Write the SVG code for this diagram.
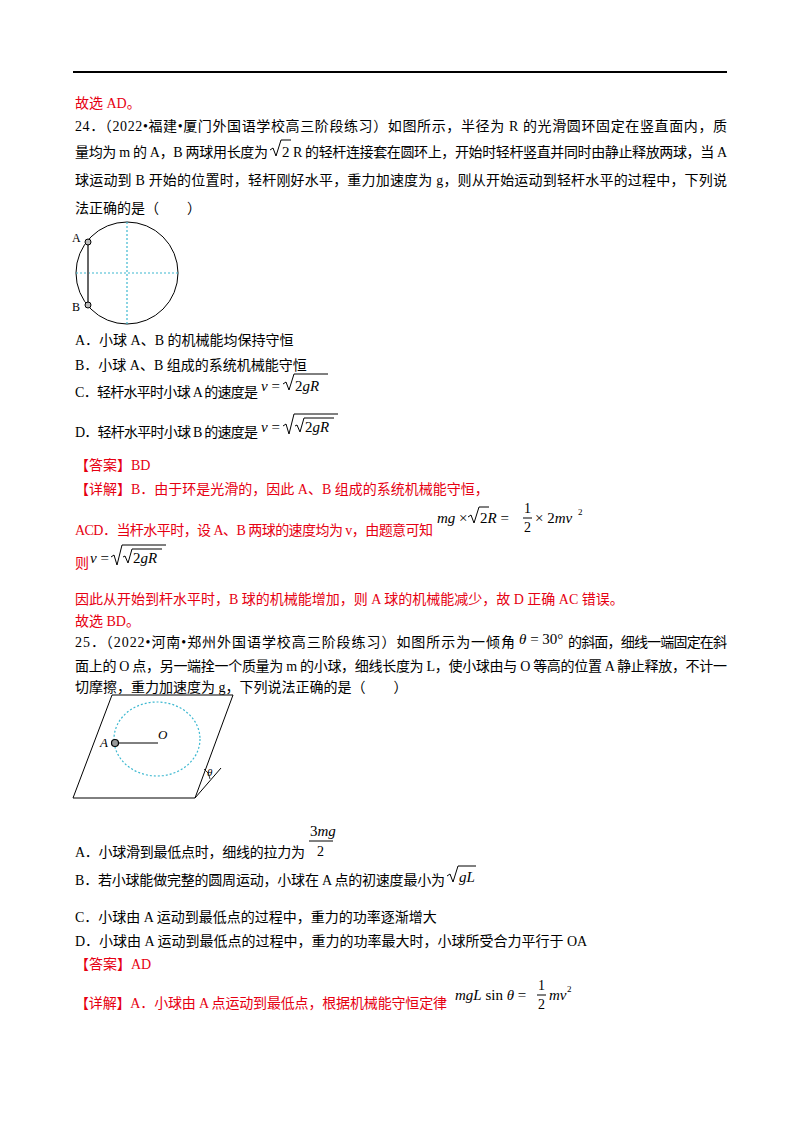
<svg xmlns="http://www.w3.org/2000/svg" width="800" height="1132" viewBox="0 0 800 1132">
<style>
text{font-family:"Liberation Serif","Noto Sans CJK SC",serif;font-size:14px;fill:#000}
.r{fill:#e60012}
.m{font-family:"Liberation Serif",serif;font-style:italic;font-size:15px}
.n{font-family:"Liberation Serif",serif;font-style:normal}
.s{font-size:9px}
.f{font-size:12px}
.rad{fill:none;stroke:#000;stroke-width:1}
.dash{fill:none;stroke:#3cb8d0;stroke-width:1.2;stroke-dasharray:2,2}
</style>
<rect width="800" height="1132" fill="#fff"/>
<line x1="73" y1="72" x2="727" y2="72" stroke="#000" stroke-width="2"/>
<g id="text">
<text class="r" x="75" y="108">故选 AD。</text>
<text x="75" y="131" textLength="652" lengthAdjust="spacing">24．（2022•福建•厦门外国语学校高三阶段练习）如图所示，半径为 R 的光滑圆环固定在竖直面内，质</text>
<text x="75" y="157" textLength="193" lengthAdjust="spacing">量均为 m 的 A，B 两球用长度为</text>
<path class="rad" d="M270,150 l3,-2 l3,8 l5,-16 h10"/>
<text x="282" y="157" class="n" style="font-size:15px">2</text>
<text x="293" y="157" textLength="434" lengthAdjust="spacing">R 的轻杆连接套在圆环上，开始时轻杆竖直并同时由静止释放两球，当 A</text>
<text x="75" y="185" textLength="652" lengthAdjust="spacing">球运动到 B 开始的位置时，轻杆刚好水平，重力加速度为 g，则从开始运动到轻杆水平的过程中，下列说</text>
<text x="75" y="213">法正确的是（　　）</text>
<text x="75" y="345">A．小球 A、B 的机械能均保持守恒</text>
<text x="75" y="370">B．小球 A、B 组成的系统机械能守恒</text>
<text x="75" y="397" textLength="183" lengthAdjust="spacing">C．轻杆水平时小球 A 的速度是</text>
<text class="m" x="261" y="391">v<tspan class="n"> =</tspan></text>
<path class="rad" d="M283,384 l3,-2 l3,8 l5,-16 h34"/>
<text class="m" x="295" y="391"><tspan class="n">2</tspan>gR</text>
<text x="75" y="437" textLength="183" lengthAdjust="spacing">D．轻杆水平时小球 B 的速度是</text>
<text class="m" x="261" y="432">v<tspan class="n"> =</tspan></text>
<path class="rad" d="M283,426 l3,-2 l3,10 l5,-20 h44"/>
<path class="rad" d="M295,426 l2,-1 l3,7 l4,-14 h30"/>
<text class="m" x="305" y="432"><tspan class="n">2</tspan>gR</text>
<text class="r" x="75" y="470">【答案】BD</text>
<text class="r" x="75" y="494">【详解】B．由于环是光滑的，因此 A、B 组成的系统机械能守恒，</text>
<text class="r" x="75" y="535" textLength="358" lengthAdjust="spacing">ACD．当杆水平时，设 A、B 两球的速度均为 v，由题意可知</text>
<text class="m" x="437" y="523">mg<tspan class="n"> ×</tspan></text>
<path class="rad" d="M468,517 l3,-2 l3,8 l5,-16 h10"/>
<text class="m" x="480" y="523"><tspan class="n">2</tspan>R<tspan class="n"> =</tspan></text>
<text class="n" x="524" y="513">1</text>
<line x1="523" y1="518" x2="532" y2="518" stroke="#000"/>
<text class="n" x="524" y="532">2</text>
<text class="m" x="535" y="523"><tspan class="n">× 2</tspan>mv</text>
<text class="n s" x="578" y="515">2</text>
<text class="r" x="75" y="568">则</text>
<text class="m" x="90" y="563">v<tspan class="n"> =</tspan></text>
<path class="rad" d="M111,557 l3,-2 l3,10 l5,-20 h44"/>
<path class="rad" d="M123,557 l2,-1 l3,7 l4,-14 h30"/>
<text class="m" x="133" y="563"><tspan class="n">2</tspan>gR</text>
<text class="r" x="75" y="604">因此从开始到杆水平时，B 球的机械能增加，则 A 球的机械能减少，故 D 正确 AC 错误。</text>
<text class="r" x="75" y="626">故选 BD。</text>
<text x="75" y="647" textLength="440" lengthAdjust="spacing">25．（2022•河南•郑州外国语学校高三阶段练习）如图所示为一倾角</text>
<text class="m" x="519" y="644">θ<tspan class="n"> = 30°</tspan></text>
<text x="568" y="647" textLength="159" lengthAdjust="spacing">的斜面，细线一端固定在斜</text>
<text x="75" y="671" textLength="652" lengthAdjust="spacing">面上的 O 点，另一端拴一个质量为 m 的小球，细线长度为 L，使小球由与 O 等高的位置 A 静止释放，不计一</text>
<text x="75" y="692">切摩擦，重力加速度为 g，下列说法正确的是（　　）</text>
<text x="75" y="857" textLength="230" lengthAdjust="spacing">A．小球滑到最低点时，细线的拉力为</text>
<text class="m" x="310" y="836"><tspan class="n">3</tspan>mg</text>
<line x1="309" y1="841" x2="333" y2="841" stroke="#000"/>
<text class="n" x="317" y="856">2</text>
<text x="75" y="885" textLength="370" lengthAdjust="spacing">B．若小球能做完整的圆周运动，小球在 A 点的初速度最小为</text>
<path class="rad" d="M447,876 l3,-2 l3,8 l5,-16 h18"/>
<text class="m" x="459" y="882">gL</text>
<text x="75" y="922">C．小球由 A 运动到最低点的过程中，重力的功率逐渐增大</text>
<text x="75" y="946">D．小球由 A 运动到最低点的过程中，重力的功率最大时，小球所受合力平行于 OA</text>
<text class="r" x="75" y="969">【答案】AD</text>
<text class="r" x="75" y="1008" textLength="372" lengthAdjust="spacing">【详解】A．小球由 A 点运动到最低点，根据机械能守恒定律</text>
<text class="m" x="455" y="1000">mgL<tspan class="n"> sin </tspan>θ<tspan class="n"> =</tspan></text>
<text class="n" x="538" y="990">1</text>
<line x1="537" y1="995" x2="546" y2="995" stroke="#000"/>
<text class="n" x="538" y="1009">2</text>
<text class="m" x="549" y="1000">mv</text>
<text class="n s" x="567" y="992">2</text>
</g>
<g id="fig1">
<circle cx="127" cy="273" r="51" fill="none" stroke="#000" stroke-width="1"/>
<line x1="127" y1="222" x2="127" y2="324" class="dash"/>
<line x1="76" y1="273" x2="178" y2="273" class="dash"/>
<line x1="88" y1="242" x2="88" y2="305" stroke="#666" stroke-width="2"/>
<circle cx="88" cy="242" r="3" fill="#bbb" stroke="#000"/>
<circle cx="88" cy="305" r="3" fill="#bbb" stroke="#000"/>
<text class="n f" x="72" y="242">A</text>
<text class="n f" x="72" y="311">B</text>
</g>
<g id="fig2">
<path d="M73,798 L112,695 H233 L195,798 Z" fill="none" stroke="#000"/>
<line x1="195" y1="798" x2="221" y2="768" stroke="#000"/>
<path d="M204,769 Q210,773 210,779" fill="none" stroke="#000" stroke-width="0.8"/>
<ellipse cx="157" cy="739" rx="43" ry="37" class="dash"/>
<line x1="115" y1="743" x2="158" y2="743" stroke="#000"/>
<circle cx="115" cy="743" r="3.5" fill="#999" stroke="#000" stroke-width="1.2"/>
<text class="m" x="100" y="747" style="font-size:13px">A</text>
<text class="m" x="158" y="739" style="font-size:13px">O</text>
<text class="m" x="207" y="776" style="font-size:11px">θ</text>
</g>
</svg>
